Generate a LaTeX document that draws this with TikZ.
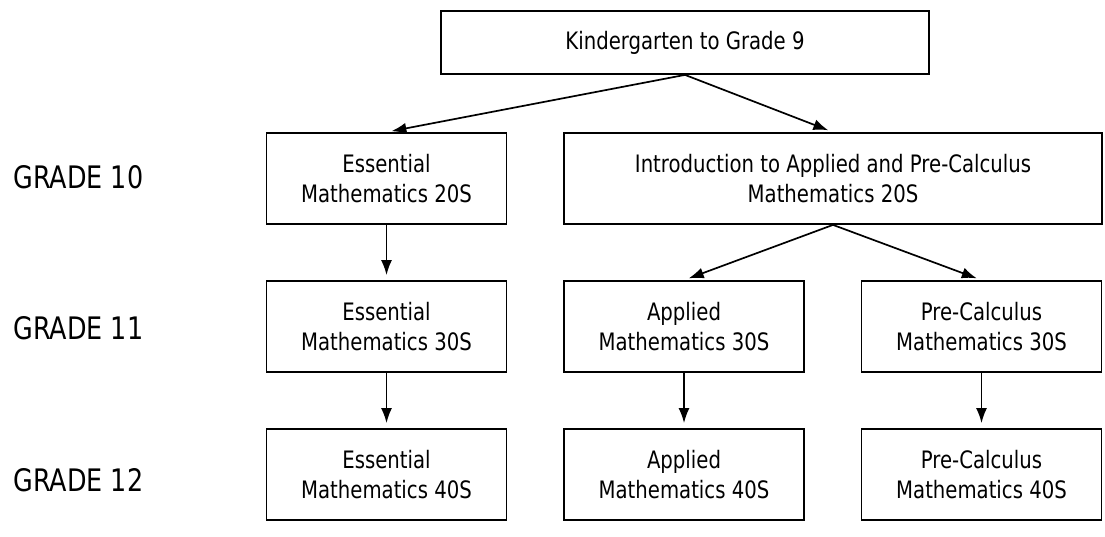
\documentclass[tikz,border=0pt]{standalone}
\usepackage{fontspec}
\setmainfont{DejaVu Sans}[FakeStretch=0.82]
\usetikzlibrary{arrows.meta}

\begin{document}
\begin{tikzpicture}[
			x=1pt, y=1pt,
			node distance=148pt,
			course/.style={rectangle,draw,line width=1.8pt,minimum width=240pt,minimum height=91pt,align=center,font=\fontsize{24}{30}\selectfont},
			grade/.style={anchor=west,font=\fontsize{31}{36}\selectfont},
			link/.style={-{Latex[length=15pt,width=11pt]},line width=1.7pt,shorten >=5pt},
			]
			\useasboundingbox (0,0) rectangle (1105,-537);
			\node [course,minimum width=488pt,minimum height=63pt] (k9) at (685,-42.5) {Kindergarten to Grade 9};
			\node [course] (ess20) at (386.5,-178.5) {Essential\\ Mathematics 20S};
			\node [course,minimum width=538pt] (intro20) at (833,-178.5) {Introduction to Applied and Pre-Calculus\\ Mathematics 20S};
			\node [course,below of=ess20] (ess30) {Essential\\ Mathematics 30S};
			\node [course,node distance=297.5pt,right of=ess30] (app30) {Applied\\ Mathematics 30S};
			\node [course,node distance=297.5pt,right of=app30] (pc30) {Pre-Calculus\\ Mathematics 30S};
			\node [course,below of=ess30] (ess40) {Essential\\ Mathematics 40S};
			\node [course,below of=app30] (app40) {Applied\\ Mathematics 40S};
			\node [course,below of=pc30] (pc40) {Pre-Calculus\\ Mathematics 40S};
			\node [grade] (g10) at (10,-177) {GRADE 10};
			\node [grade] (g11) at (10,-328) {GRADE 11};
			\node [grade] (g12) at (10,-480) {GRADE 12};
			\draw [link] (k9.south) -- (ess20.north);
			\draw [link] (k9.south) -- (intro20.north);
			\draw [link] (intro20.south) -- (app30.north);
			\draw [link] (intro20.south) -- (pc30.north);
			\draw [link] (ess20) -- (ess30);
			\draw [link] (ess30) -- (ess40);
			\draw [link] (app30) -- (app40);
			\draw [link] (pc30) -- (pc40);
		\end{tikzpicture}
\end{document}
